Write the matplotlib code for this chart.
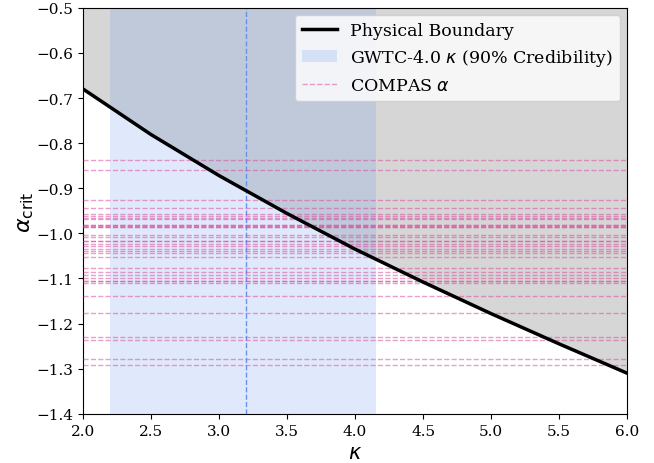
import numpy as np
import matplotlib
matplotlib.use('Agg')
import matplotlib.pyplot as plt

plt.rcParams['font.family'] = 'DejaVu Serif'
plt.rcParams['mathtext.fontset'] = 'dejavusans'

# physical boundary alpha_crit(kappa)
kappa = [2.0, 2.5, 3.0, 3.5, 4.0, 4.5, 5.0, 5.5, 6.0]
alpha_crit = [-0.680, -0.781, -0.872, -0.956, -1.035, -1.108, -1.178, -1.245, -1.310]

# GWTC-4.0 kappa 90% credible interval and median
kappa_lo, kappa_hi = 2.2, 4.15
kappa_med = 3.2

# COMPAS alpha values
compas_alpha = [-0.838, -0.859, -0.927, -0.943, -0.956, -0.961, -0.966, -0.969,
                -0.981, -0.981, -0.983, -0.986, -0.986,
                -1.003, -1.009, -1.017, -1.017, -1.023, -1.027, -1.034, -1.040, -1.044,
                -1.053, -1.077, -1.086, -1.092, -1.099, -1.105, -1.105, -1.109,
                -1.139, -1.176, -1.229, -1.237, -1.278, -1.292]

fig, ax = plt.subplots(figsize=(6.54, 4.64), dpi=100)
fig.subplots_adjust(left=0.127, right=0.959, top=0.981, bottom=0.106)

ax.fill_between(kappa, alpha_crit, -0.5, color='#d6d6d6', zorder=0)
ax.axvspan(kappa_lo, kappa_hi, color='cornflowerblue', alpha=0.2, lw=0,
           label=r'GWTC-4.0 $\kappa$ (90% Credibility)', zorder=1)
ax.axvline(kappa_med, color='cornflowerblue', ls='--', lw=1.0, zorder=2)

for i, a in enumerate(compas_alpha):
    ax.axhline(a, color='#d9509f', ls='--', lw=1.0, alpha=0.55, zorder=3,
               label=r'COMPAS $\alpha$' if i == 0 else None)

ax.plot(kappa, alpha_crit, color='black', lw=2.5, label='Physical Boundary', zorder=4)

ax.set_xlim(2.0, 6.0)
ax.set_ylim(-1.4, -0.5)
ax.set_xticks(np.arange(2.0, 6.01, 0.5))
ax.set_yticks(np.arange(-1.4, -0.49, 0.1))
ax.tick_params(labelsize=11)
ax.set_xlabel(r'$\kappa$', fontsize=15)
ax.set_ylabel(r'$\alpha_{\rm crit}$', fontsize=16, labelpad=0)

h, l = ax.get_legend_handles_labels()
order = [l.index('Physical Boundary'), l.index(r'GWTC-4.0 $\kappa$ (90% Credibility)'),
         l.index(r'COMPAS $\alpha$')]
ax.legend([h[i] for i in order], [l[i] for i in order], loc='upper right',
          fontsize=12.5, borderaxespad=0.4)

plt.savefig('out.png')
